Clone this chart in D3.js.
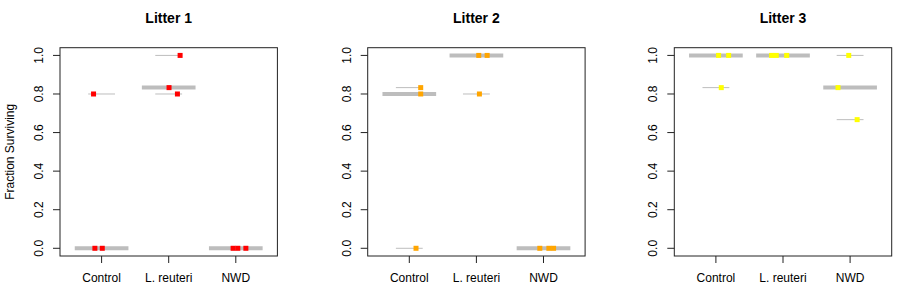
<!DOCTYPE html>
<html>
<head>
<meta charset="utf-8">
<script src="https://cdn.jsdelivr.net/npm/d3@7"></script>
<style>
  body { margin: 0; background: #fff; }
  text { font-family: "Liberation Sans", Arial, sans-serif; fill: #000; }
</style>
</head>
<body>
<div id="chart-area"></div>
<script>
// Data
const litters = ['Litter 1', 'Litter 2', 'Litter 3'];
const groups = ['Control', 'L. reuteri', 'NWD'];
const yTicks = [0, 0.2, 0.4, 0.6, 0.8, 1.0];
const pointColors = ['#ff0000', '#ffa500', '#ffff00'];

// fraction surviving per group (Control, L. reuteri, NWD)
const litter1Values = [[0.8, 0, 0], [1.0, 0.833, 0.8], [0, 0, 0]];
const litter2Values = [[0.833, 0.8, 0], [1.0, 1.0, 0.8], [0, 0, 0]];
const litter3Values = [[1.0, 1.0, 0.833], [1.0, 1.0, 1.0], [1.0, 0.833, 0.667]];

// horizontal jitter of each point (in category units)
const litter1Jitter = [[-0.12, -0.1, 0.01], [0.17, 0.005, 0.13], [-0.04, 0.03, 0.15]];
const litter2Jitter = [[0.17, 0.17, 0.1], [0.035, 0.16, 0.045], [-0.055, 0.08, 0.15]];
const litter3Jitter = [[0.04, 0.19, 0.08], [-0.17, -0.1, 0.055], [-0.02, -0.18, 0.105]];

const allValues = [litter1Values, litter2Values, litter3Values];
const allJitter = [litter1Jitter, litter2Jitter, litter3Jitter];

// Layout
const W = 900, H = 292;
const panelLeft = [60, 367.7, 674.3];
const panelWidth = 217.4;
const plotTop = 47.7, plotBottom = 256;

const svg = d3.select('#chart-area')
    .append('svg')
    .attr('width', W)
    .attr('height', H);

const y = d3.scaleLinear()
    .domain([-0.04, 1.04])
    .range([plotBottom, plotTop]);

litters.forEach((title, p) => {
    const left = panelLeft[p];
    const x = d3.scaleLinear()
        .domain([0.38, 3.62])
        .range([left, left + panelWidth]);

    const g = svg.append('g');

    // Title
    g.append('text')
        .attr('x', left + panelWidth / 2)
        .attr('y', 23)
        .attr('text-anchor', 'middle')
        .attr('font-size', '14px')
        .attr('font-weight', 'bold')
        .text(title);

    // Y axis ticks + labels
    yTicks.forEach((t) => {
        g.append('line')
            .attr('x1', left - 7).attr('x2', left)
            .attr('y1', y(t)).attr('y2', y(t))
            .attr('stroke', '#222');
        g.append('text')
            .attr('transform', 'translate(' + (left - 17) + ',' + y(t) + ') rotate(-90)')
            .attr('text-anchor', 'middle')
            .attr('font-size', '12px')
            .text(d3.format('.1f')(t));
    });

    // X axis ticks + labels
    groups.forEach((name, i) => {
        g.append('line')
            .attr('x1', x(i + 1)).attr('x2', x(i + 1))
            .attr('y1', plotBottom).attr('y2', plotBottom + 7)
            .attr('stroke', '#222');
        g.append('text')
            .attr('x', x(i + 1))
            .attr('y', 282)
            .attr('text-anchor', 'middle')
            .attr('font-size', '12px')
            .text(name);
    });

    const values = allValues[p];
    const jitter = allJitter[p];

    // thin lines at each value
    values.forEach((vals, i) => {
        g.selectAll(null)
            .data(vals)
            .enter()
            .append('line')
            .attr('x1', x(i + 1 - 0.2))
            .attr('x2', x(i + 1 + 0.2))
            .attr('y1', (d) => y(d))
            .attr('y2', (d) => y(d))
            .attr('stroke', '#bdbdbd')
            .attr('stroke-width', 1);
    });

    // thick median bar
    values.forEach((vals, i) => {
        const med = d3.median(vals);
        g.append('line')
            .attr('x1', x(i + 1 - 0.4))
            .attr('x2', x(i + 1 + 0.4))
            .attr('y1', y(med))
            .attr('y2', y(med))
            .attr('stroke', '#bdbdbd')
            .attr('stroke-width', 4);
    });

    // points
    values.forEach((vals, i) => {
        g.selectAll(null)
            .data(vals.map((v, k) => ({ v: v, j: jitter[i][k] })))
            .enter()
            .append('rect')
            .attr('x', (d) => x(i + 1 + d.j) - 2.5)
            .attr('y', (d) => y(d.v) - 2.5)
            .attr('width', 5)
            .attr('height', 5)
            .attr('fill', pointColors[p]);
    });

    // Box
    g.append('rect')
        .attr('x', left)
        .attr('y', plotTop)
        .attr('width', panelWidth)
        .attr('height', plotBottom - plotTop)
        .attr('fill', 'none')
        .attr('stroke', '#222')
        .attr('stroke-width', 1);
});

// Y label
svg.append('text')
    .attr('transform', 'translate(14,' + ((plotTop + plotBottom) / 2) + ') rotate(-90)')
    .attr('text-anchor', 'middle')
    .attr('font-size', '12px')
    .text('Fraction Surviving');
</script>
</body>
</html>
